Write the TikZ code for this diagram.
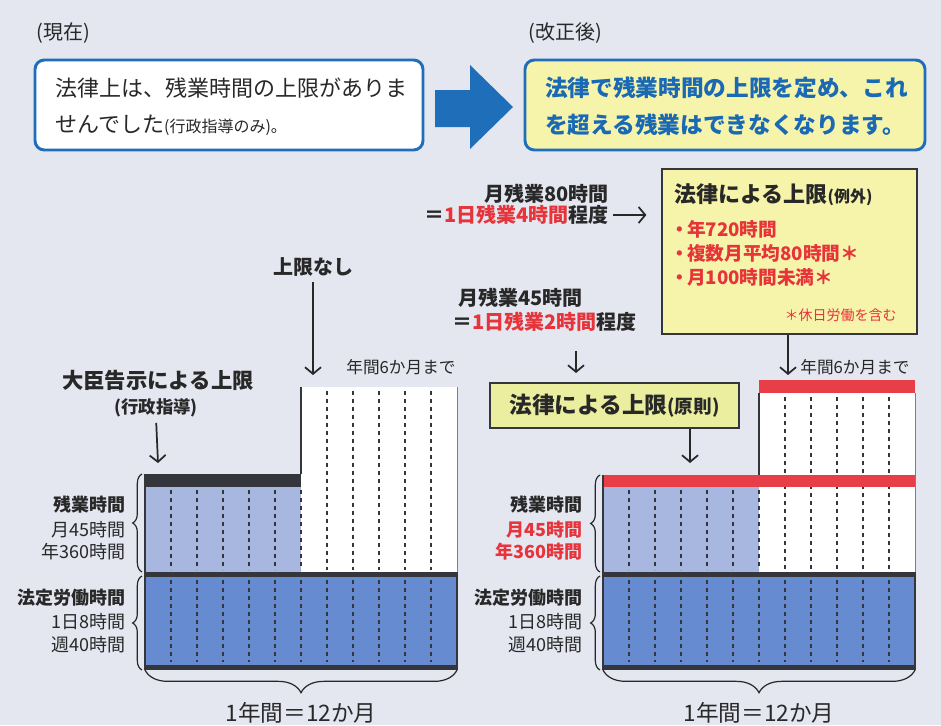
\documentclass[tikz,border=0pt]{standalone}
\usepackage{fontspec}
\setmainfont{Noto Sans CJK JP}
\usetikzlibrary{arrows.meta}
\usetikzlibrary{calc}
\usetikzlibrary{decorations.pathreplacing}
\usepackage{xcolor}

\definecolor{bgcol}{RGB}{228,230,240}
\definecolor{lineblue}{RGB}{30,110,185}
\definecolor{textblue}{RGB}{25,105,180}
\definecolor{overblue}{RGB}{167,183,224}
\definecolor{lawblue}{RGB}{102,139,208}
\definecolor{barblack}{RGB}{52,54,60}
\definecolor{barred}{RGB}{232,62,72}
\definecolor{textred}{RGB}{230,52,58}
\definecolor{boxyellow}{RGB}{246,244,170}
\definecolor{boxlime}{RGB}{234,238,158}
\definecolor{inkgray}{RGB}{40,40,40}

\tikzset{
  txt/.style={inner sep=0pt, text=inkgray},
  arr/.style={line width=1.3pt, draw=inkgray, -{Straight Barb[length=5pt,width=12pt]}},
  dashline/.style={line width=1.1pt, draw=barblack, dash pattern=on 3pt off 3pt},
  brace/.style={decorate, decoration={brace, amplitude=7pt}, line width=0.9pt, draw=inkgray},
  roundbox/.style={draw=lineblue, line width=2.2pt, rounded corners=7pt, minimum height=67.5pt, inner sep=0pt},
  limitbox/.style={draw=barblack, line width=1.4pt, inner sep=0pt, text=inkgray},
}

\begin{document}
\begin{tikzpicture}[x=0.75pt,y=-0.75pt]
      \useasboundingbox (0,0) rectangle (941,725);
      \fill[bgcol] (0,0) rectangle (941,725);

      % Top boxes
      \node[txt, anchor=west, font=\fontsize{15}{17}\selectfont] (now) at (36,33) {(現在)};
      \node[txt, anchor=west, font=\fontsize{15}{17}\selectfont] (after) at (528,33) {(改正後)};

      \node[roundbox, fill=white, minimum width=291pt] (nowbox) at (229,105) {};
      \node[txt, anchor=west, font=\fontsize{16.5}{19}\selectfont] (nowA) at (55,88) {法律上は、残業時間の上限がありま};
      \node[txt, anchor=west, font=\fontsize{16.5}{19}\selectfont] (nowB) at (55,125) {せんでした{\fontsize{12}{14}\selectfont(行政指導のみ)。}};

      \node[roundbox, fill=boxyellow, minimum width=300pt] (newbox) at (725,105) {};
      \node[txt, anchor=west, text=textblue, font=\fontsize{17}{20}\selectfont\bfseries] (newA) at (545,88) {法律で残業時間の上限を定め、これ};
      \node[txt, anchor=west, text=textblue, font=\fontsize{17}{20}\selectfont\bfseries] (newB) at (545,125) {を超える残業はできなくなります。};

      % Big arrow
      \fill[lineblue] (435,90) -- (470,90) -- (470,65) -- (513,107) -- (470,149) -- (470,127) -- (435,127) -- cycle;

      % Left labels
      \node[txt, font=\fontsize{15}{17}\selectfont\bfseries] (nolimit) at (313,267) {上限なし};
      \node[txt, font=\fontsize{16}{18}\selectfont\bfseries] (minister) at (158,380) {大臣告示による上限};
      \node[txt, font=\fontsize{13}{15}\selectfont\bfseries] (gyosei) at (156,408) {(行政指導)};
      \node[txt, font=\fontsize{12.5}{14}\selectfont] (sixL) at (401,367) {年間6か月まで};
      \coordinate (Pnl) at (313,375);
      \coordinate (Pmin) at (158,463);
      \draw[arr, shorten <=4pt] (nolimit.south) -- (Pnl);
      \draw[arr, shorten <=4pt] (gyosei.south) -- (Pmin);

      % Right labels
      \node[txt, anchor=east, font=\fontsize{15}{17}\selectfont\bfseries] (m80a) at (609,194) {月残業80時間};
      \node[txt, anchor=east, font=\fontsize{15}{17}\selectfont\bfseries] (m80b) at (609,215) {＝{\color{textred}1日残業4時間}程度};
      \node[txt, anchor=west, font=\fontsize{15}{17}\selectfont\bfseries] (m45a) at (458,298) {月残業45時間};
      \node[txt, anchor=west, font=\fontsize{15}{17}\selectfont\bfseries] (m45b) at (452,322) {＝{\color{textred}1日残業2時間}程度};

      \node[limitbox, fill=boxyellow, minimum width=191.25pt, minimum height=123.75pt] (exc) at (789.5,251.5) {};
      \node[txt, anchor=west, font=\fontsize{16.5}{19}\selectfont\bfseries] (excT) at (674,195) {法律による上限{\fontsize{12}{14}\selectfont(例外)}};
      \node[txt, anchor=west, text=textred, font=\fontsize{14}{16}\selectfont\bfseries] (excA) at (676,229) {\kern-0.3em・\kern-0.12em年720時間};
      \node[txt, anchor=west, text=textred, font=\fontsize{14}{16}\selectfont\bfseries] (excB) at (676,253) {\kern-0.3em・\kern-0.12em複数月平均80時間＊};
      \node[txt, anchor=west, text=textred, font=\fontsize{14}{16}\selectfont\bfseries] (excC) at (676,277) {\kern-0.3em・\kern-0.12em月100時間未満＊};
      \node[txt, anchor=east, text=textred, font=\fontsize{10.5}{12}\selectfont] (excN) at (897,315) {＊休日労働を含む};

      \node[limitbox, fill=boxlime, minimum width=186.75pt, minimum height=33.75pt, font=\fontsize{17}{20}\selectfont\bfseries] (prin) at (614.5,405.5) {法律による上限{\fontsize{14}{16}\selectfont(原則)}};
      \node[txt, font=\fontsize{12.5}{14}\selectfont] (sixR) at (855,367) {年間6か月まで};

      \coordinate (P45) at (576,373);
      \coordinate (P80) at (788,375);
      \coordinate (Pprin) at (690,463);
      \draw[arr, shorten <=3pt, shorten >=11pt] (m80b.east) -- (exc.west |- m80b.east);
      \draw[arr, shorten <=14pt] (m45b.south -| P45) -- (P45);
      \draw[arr] (exc.south -| P80) -- (P80);
      \draw[arr] (prin.south -| Pprin) -- (Pprin);

      % Left chart
      \fill[white] (301,387) rectangle (457,572);
      \fill[overblue] (145,487) rectangle (301,572);
      \fill[lawblue] (145,577) rectangle (457,665);
      \foreach \k in {1,...,6}
        \draw[dashline] (145+26*\k,490) -- (145+26*\k,570);
      \foreach \k in {7,...,11}
        \draw[dashline] (145+26*\k,391) -- (145+26*\k,570);
      \foreach \k in {1,...,11}
        \draw[dashline] (145+26*\k,580) -- (145+26*\k,662);
      \fill[barblack] (145,474) rectangle (301,487);
      \draw[barblack, line width=1.5pt] (301,387) -- (301,474);
      \draw[gray, line width=0.6pt] (457,387) -- (457,572);
      \fill[barblack] (145,572) rectangle (457,577);
      \fill[barblack] (145,665) rectangle (457,670);
      \draw[barblack, line width=0.8pt] (145,474) -- (145,670);
      \draw[barblack, line width=0.8pt] (457,572) -- (457,670);

      % Right chart
      \fill[white] (759,393) rectangle (915,572);
      \fill[overblue] (603,487) rectangle (759,572);
      \fill[lawblue] (603,577) rectangle (915,665);
      \foreach \k in {1,...,6}
        \draw[dashline] (603+26*\k,490) -- (603+26*\k,570);
      \foreach \k in {7,...,11}
        \draw[dashline] (603+26*\k,397) -- (603+26*\k,570);
      \foreach \k in {1,...,11}
        \draw[dashline] (603+26*\k,580) -- (603+26*\k,662);
      \fill[barred] (759,380) rectangle (915,393);
      \fill[barred] (603,475) rectangle (915,487);
      \draw[barblack, line width=1.5pt] (759,393) -- (759,475);
      \draw[gray, line width=0.6pt] (915,393) -- (915,572);
      \fill[barblack] (603,572) rectangle (915,577);
      \fill[barblack] (603,665) rectangle (915,670);
      \draw[barblack, line width=0.8pt] (603,475) -- (603,670);
      \draw[barblack, line width=0.8pt] (915,572) -- (915,670);

      % Braces
      \draw[brace] (142,572) -- (142,474);
      \draw[brace] (142,670) -- (142,576);
      \draw[brace, decoration={amplitude=17pt}] (457,670) -- (145,670);
      \draw[brace] (600,572) -- (600,475);
      \draw[brace] (600,670) -- (600,576);
      \draw[brace, decoration={amplitude=17pt}] (915,670) -- (603,670);

      % Side texts
      \foreach \n/\y/\t/\s in {a/505/残業時間/\bfseries, b/530/月45時間/, c/552/年360時間/, d/598/法定労働時間/\bfseries, e/622/1日8時間/, f/645/週40時間/}
      {
        \node[txt, anchor=east, font=\fontsize{13.5}{16}\selectfont\s] (L\n) at (126,\y) {\t};
      }
      \node[txt, anchor=east, font=\fontsize{13.5}{16}\selectfont\bfseries] (Ra) at (583,505) {残業時間};
      \node[txt, anchor=east, text=textred, font=\fontsize{13.5}{16}\selectfont\bfseries] (Rb) at (583,530) {月45時間};
      \node[txt, anchor=east, text=textred, font=\fontsize{13.5}{16}\selectfont\bfseries] (Rc) at (583,552) {年360時間};
      \node[txt, anchor=east, font=\fontsize{13.5}{16}\selectfont\bfseries] (Rd) at (583,598) {法定労働時間};
      \node[txt, anchor=east, font=\fontsize{13.5}{16}\selectfont] (Re) at (583,622) {1日8時間};
      \node[txt, anchor=east, font=\fontsize{13.5}{16}\selectfont] (Rf) at (583,645) {週40時間};

      \node[txt, font=\fontsize{17}{20}\selectfont] (yearL) at (301,713) {1年間＝12か月};
      \node[txt, font=\fontsize{17}{20}\selectfont] (yearR) at (759,713) {1年間＝12か月};
  \end{tikzpicture}
\end{document}
